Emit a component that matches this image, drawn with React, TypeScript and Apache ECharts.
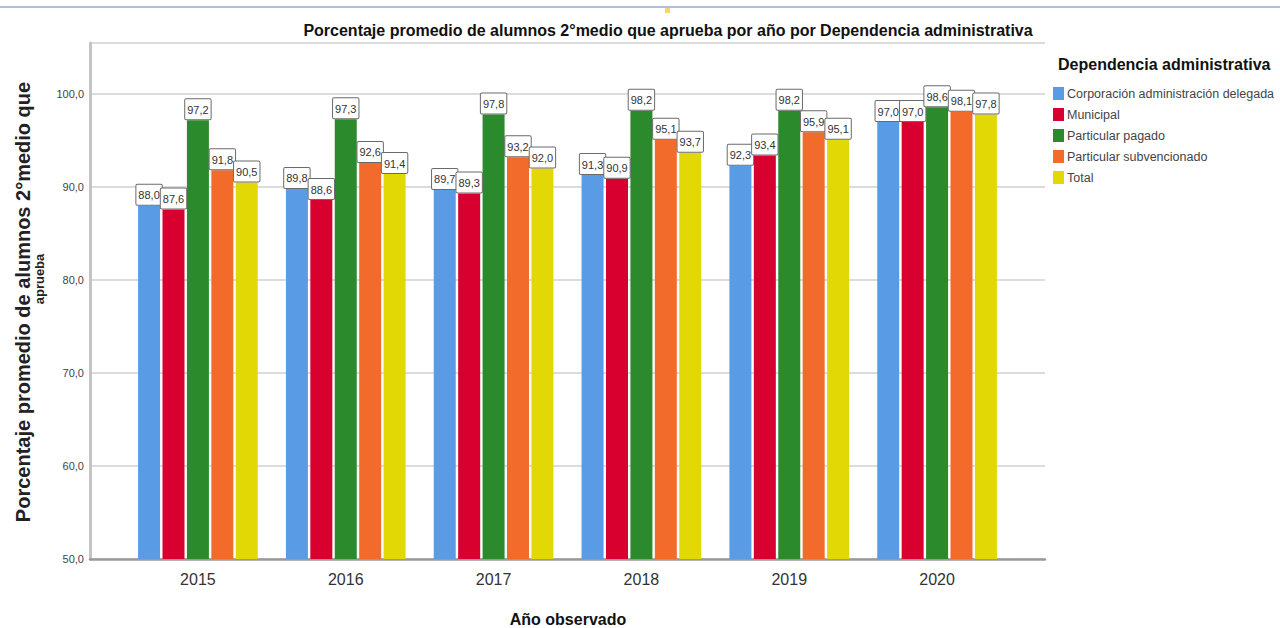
import React, { useEffect, useRef } from "react";
import * as echarts from "echarts";

const years = ["2015", "2016", "2017", "2018", "2019", "2020"];
const seriesNames = [
  "Corporación administración delegada",
  "Municipal",
  "Particular pagado",
  "Particular subvencionado",
  "Total",
];
const corporacion = [88.0, 89.8, 89.7, 91.3, 92.3, 97.0];
const municipal = [87.6, 88.6, 89.3, 90.9, 93.4, 97.0];
const pagado = [97.2, 97.3, 97.8, 98.2, 98.2, 98.6];
const subvencionado = [91.8, 92.6, 93.2, 95.1, 95.9, 98.1];
const total = [90.5, 91.4, 92.0, 93.7, 95.1, 97.8];
const seriesValues = [corporacion, municipal, pagado, subvencionado, total];
const colors = ["#5a9be6", "#d8002e", "#2b8a2b", "#f26b2a", "#e2d806"];

const NARROW = '"Liberation Sans Narrow", "Arial Narrow", "Liberation Sans", Arial, sans-serif';

const fmt = (v: number) => v.toFixed(1).replace(".", ",");

export default function App() {
  const ref = useRef<HTMLDivElement>(null);
  useEffect(() => {
    if (!ref.current) return;
    const chart = echarts.init(ref.current, undefined, { renderer: "svg" });
    const yMin = 50;
    const yMax = 105.5;
    const option: any = {
      animation: false,
      backgroundColor: "#ffffff",
      textStyle: { fontFamily: NARROW },
      grid: [
        { left: 90, right: 235, top: 43, bottom: 69 },
        { left: 124, right: 269, top: 43, bottom: 69 },
      ],
      xAxis: [
        {
          gridIndex: 0,
          type: "value",
          min: 0,
          max: 1,
          axisLabel: { show: false },
          axisTick: { show: false },
          splitLine: { show: false },
          axisLine: { show: true, onZero: false, lineStyle: { color: "#9a9a9a", width: 2.5 } },
        },
        {
          gridIndex: 1,
          type: "category",
          data: years,
          axisLine: { show: false },
          axisTick: { show: false },
          axisLabel: { color: "#333", fontSize: 16, margin: 12, fontFamily: NARROW },
        },
      ],
      yAxis: [
        {
          gridIndex: 0,
          type: "value",
          min: yMin,
          max: yMax,
          interval: 10,
          axisLine: { show: true, lineStyle: { color: "#c4c4c4", width: 3 } },
          axisTick: { show: false },
          axisLabel: {
            color: "#444",
            fontSize: 11,
            margin: 6,
            showMaxLabel: false,
            fontFamily: NARROW,
            formatter: (v: number) => (v % 10 === 0 ? fmt(v) : ""),
          },
          splitLine: { show: true, lineStyle: { color: "#dcdcdc", width: 2 } },
        },
        {
          gridIndex: 1,
          type: "value",
          min: yMin,
          max: yMax,
          show: false,
          splitLine: { show: false },
        },
      ],
      legend: {
        orient: "vertical",
        left: 1048,
        top: 82,
        icon: "rect",
        itemWidth: 11,
        itemHeight: 13,
        itemGap: 8,
        data: seriesNames,
        textStyle: { color: "#444", fontSize: 12.5, fontFamily: NARROW, padding: [0, 0, 0, -2] },
      },
      graphic: [
        {
          type: "line",
          shape: { x1: 0, y1: 7, x2: 1280, y2: 7 },
          style: { stroke: "#a9c0df", lineWidth: 2 },
        },
        {
          type: "rect",
          shape: { x: 665, y: 8, width: 5, height: 5 },
          style: { fill: "#f5d86a" },
        },
        {
          type: "text",
          x: 668,
          y: 30,
          style: {
            text: "Porcentaje promedio de alumnos 2°medio que aprueba por año por Dependencia administrativa",
            font: `bold 16px ${NARROW}`,
            fill: "#111",
            textAlign: "center",
            textVerticalAlign: "middle",
          },
        },
        {
          type: "text",
          x: 1058,
          y: 64,
          style: {
            text: "Dependencia administrativa",
            font: `bold 16px ${NARROW}`,
            fill: "#111",
            textAlign: "left",
            textVerticalAlign: "middle",
          },
        },
        {
          type: "text",
          x: 568,
          y: 619,
          style: {
            text: "Año observado",
            font: `bold 16px ${NARROW}`,
            fill: "#111",
            textAlign: "center",
            textVerticalAlign: "middle",
          },
        },
        {
          type: "text",
          x: 23,
          y: 302,
          rotation: Math.PI / 2,
          style: {
            text: "Porcentaje promedio de alumnos 2°medio que",
            font: `bold 20px "Liberation Sans", Arial, sans-serif`,
            fill: "#222",
            textAlign: "center",
            textVerticalAlign: "middle",
          },
        },
        {
          type: "text",
          x: 39,
          y: 279,
          rotation: Math.PI / 2,
          style: {
            text: "aprueba",
            font: `bold 13px "Liberation Sans", Arial, sans-serif`,
            fill: "#222",
            textAlign: "center",
            textVerticalAlign: "middle",
          },
        },
      ],
      series: seriesNames.map((name, i) => ({
        name,
        type: "bar",
        xAxisIndex: 1,
        yAxisIndex: 1,
        data: seriesValues[i],
        barWidth: 22,
        barGap: "11%",
        itemStyle: { color: colors[i] },
        label: {
          show: true,
          position: "top",
          distance: 1,
          formatter: (p: any) => fmt(p.value),
          backgroundColor: "#ffffff",
          borderColor: "#6a6a6a",
          borderWidth: 1,
          borderRadius: 1,
          padding: [5, 2, 4, 2],
          fontSize: 11,
          color: "#333",
          fontFamily: NARROW,
        },
      })),
    };
    chart.setOption(option);
    return () => chart.dispose();
  }, []);
  return (
    <div
      ref={ref}
      style={{ position: "absolute", left: 0, top: 0, width: 1280, height: 628 }}
    />
  );
}
